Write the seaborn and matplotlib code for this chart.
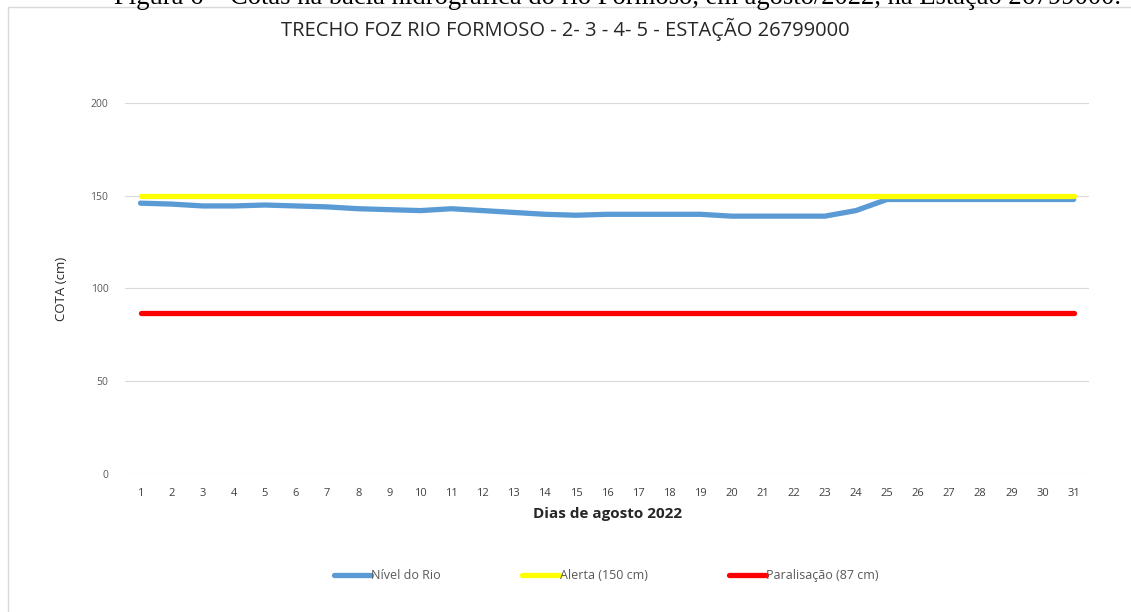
import pandas as pd
import matplotlib.pyplot as plt
import matplotlib.patches as mpatches
import seaborn as sns

# ── Data ──────────────────────────────────────────────
dias = list(range(1, 32))
nivel_rio = [146, 145.5, 144.5, 144.5, 145, 144.5, 144, 143, 142.5, 142,
             143, 142, 141, 140, 139.5, 140, 140, 140, 140, 139,
             139, 139, 139, 142, 148, 148, 148, 148, 148, 148, 148]
alerta = [150] * 31
paralisacao = [87] * 31

df = pd.DataFrame({"Dia": dias, "Nivel": nivel_rio,
                   "Alerta": alerta, "Paralisacao": paralisacao})

# ── Setup ──────────────────────────────────────────────
sns.set_theme(style="white")
plt.rcParams["font.family"] = ["Open Sans", "DejaVu Sans"]

fig = plt.figure(figsize=(11.31, 6.12), dpi=100)
ax = fig.add_axes([0.1105, 0.2255, 0.8525, 0.6062])

sns.lineplot(data=df, x="Dia", y="Nivel", ax=ax, color="#5B9BD5",
             linewidth=5.8, label="Nível do Rio", solid_capstyle="round")
sns.lineplot(data=df, x="Dia", y="Alerta", ax=ax, color="#FFFF00",
             linewidth=3.8, label="Alerta (150 cm)", solid_capstyle="round")
sns.lineplot(data=df, x="Dia", y="Paralisacao", ax=ax, color="#FF0000",
             linewidth=3.8, label="Paralisação (87 cm)", solid_capstyle="round")

ax.set_xlim(0.5, 31.5)
ax.set_ylim(0, 200)
ax.set_xticks(dias)
ax.set_yticks([0, 50, 100, 150, 200])
ax.grid(axis="y", color="#D9D9D9", linewidth=0.8)
ax.set_axisbelow(True)
for s in ax.spines.values():
    s.set_visible(False)
ax.tick_params(axis="x", labelsize=8, labelcolor="#404040", length=0, pad=10)
ax.tick_params(axis="y", labelsize=7.5, labelcolor="#595959", length=0, pad=12)

ax.set_xlabel("Dias de agosto 2022", fontsize=11, fontweight="bold",
              color="#262626", labelpad=6)
ax.set_ylabel("COTA (cm)", fontsize=9.5, color="#262626", labelpad=16)

handles, labels = ax.get_legend_handles_labels()
ax.get_legend().remove()
for h in handles:
    h.set_linewidth(3.8)
fig.legend(handles, labels, loc="center", bbox_to_anchor=(0.536, 0.059),
           ncol=3, frameon=False, fontsize=9, handlelength=3.0,
           handletextpad=0.0, columnspacing=6.5, labelcolor="#595959")

fig.text(0.5, 0.952, "TRECHO FOZ RIO FORMOSO - 2- 3 - 4- 5 - ESTAÇÃO 26799000",
         ha="center", va="center", fontsize=14.5, color="#262626")

# chart border
fig.patches.append(mpatches.Rectangle((0.007, -0.01), 1.0, 0.9986,
                   transform=fig.transFigure, fill=False,
                   edgecolor="#D9D9D9", linewidth=1))

# caption cut at the top of the picture
fig.text(0.101, 0.9935, "Figura 6 – Cotas na bacia hidrográfica do rio Formoso, "
         "em agosto/2022, na Estação 26799000.",
         ha="left", va="baseline", fontsize=19.2, color="black",
         family=["Liberation Serif", "DejaVu Serif"])

plt.savefig("out.png", dpi=100)
plt.close()
